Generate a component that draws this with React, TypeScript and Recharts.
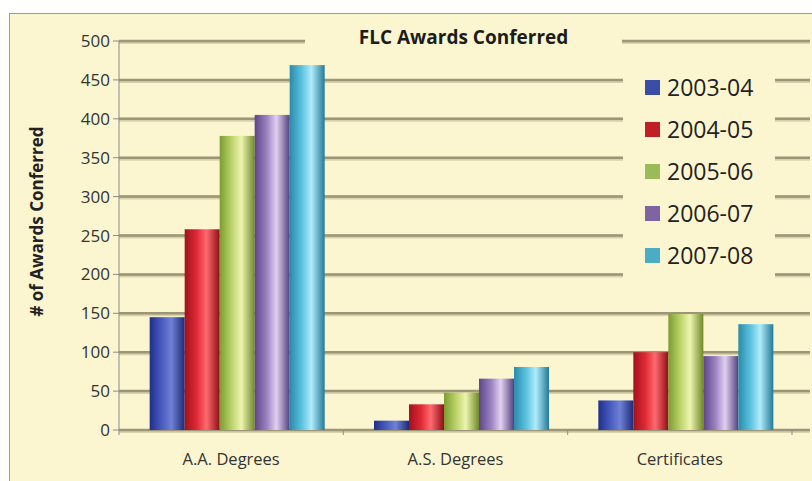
import { Bar, BarChart, CartesianGrid, XAxis, YAxis } from "recharts";

const categories = ["A.A. Degrees", "A.S. Degrees", "Certificates"];
const years = ["2003-04", "2004-05", "2005-06", "2006-07", "2007-08"];
const awards2003 = [145, 12, 38];
const awards2004 = [258, 33, 100];
const awards2005 = [378, 48, 149];
const awards2006 = [405, 66, 95];
const awards2007 = [469, 81, 136];
const yTicks = [0, 50, 100, 150, 200, 250, 300, 350, 400, 450, 500];

const seriesValues = [awards2003, awards2004, awards2005, awards2006, awards2007];

const data = categories.map((name, i) => {
  const row: Record<string, string | number> = { name };
  years.forEach((y, k) => {
    row[y] = seriesValues[k][i];
  });
  return row;
});

// cylinder shading: edge, mid, highlight, edge
const palette = [
  { key: "blue", legend: "#3a4ea8", stops: ["#1f2f8a", "#4a5cc0", "#7080d4", "#1c2a78"] },
  { key: "red", legend: "#c01f27", stops: ["#a0121c", "#e02a36", "#ff6a70", "#8e0e16"] },
  { key: "green", legend: "#9bbb59", stops: ["#7c9c30", "#bcd46c", "#eef4b0", "#6e8a28"] },
  { key: "purple", legend: "#8064a2", stops: ["#5c4688", "#9c82c0", "#e2d0f2", "#54407c"] },
  { key: "cyan", legend: "#4bacc6", stops: ["#2a8aaa", "#5cc2e0", "#b0ecfa", "#237a98"] },
];

const W = 812;
const H = 481;
const PLOT_LEFT = 119;
const PLOT_RIGHT = 792;
const PLOT_TOP = 41;
const PLOT_BOTTOM = 430;
const X_AXIS_H = 30;
const Y_AXIS_W = 60;
const BAND = (PLOT_RIGHT - PLOT_LEFT) / categories.length;
const FONT = "'Open Sans', sans-serif";

function CategoryTick(props: any) {
  const { x, payload } = props;
  return (
    <g>
      <line x1={x + BAND / 2} x2={x + BAND / 2} y1={PLOT_BOTTOM} y2={PLOT_BOTTOM + 5} stroke="#7f8fb0" />
      {payload.index === 0 && (
        <line x1={x - BAND / 2} x2={x - BAND / 2} y1={PLOT_BOTTOM} y2={PLOT_BOTTOM + 5} stroke="#7f8fb0" />
      )}
      <text x={x} y={PLOT_BOTTOM + 35} textAnchor="middle" fontSize={16.5} fill="#333" fontFamily={FONT}>
        {payload.value}
      </text>
    </g>
  );
}

function GridLine(props: any) {
  const { y1, x1 } = props;
  return (
    <g key={`g-${y1}`}>
      <line x1={x1} x2={W - 2} y1={y1 + 1} y2={y1 + 1} stroke="#d8d2a8" strokeWidth={4} />
      <line x1={x1} x2={W - 2} y1={y1} y2={y1} stroke="#9c9577" strokeWidth={2.5} />
    </g>
  );
}

function CylinderBar(props: any) {
  const { x, y, width, height, fill } = props;
  if (!height || height <= 0) return null;
  return <rect x={x + 6} y={y} width={width} height={height} fill={fill} />;
}

function LegendBox() {
  return (
    <div
      style={{
        position: "absolute",
        left: 623,
        top: 60,
        width: 152,
        background: "#fbf6cf",
        padding: "6px 0 8px 0",
        fontFamily: FONT,
      }}
    >
      {years.map((y, i) => (
        <div key={y} style={{ display: "flex", alignItems: "center", height: 42, paddingLeft: 22 }}>
          <span style={{ width: 15, height: 15, background: palette[i].legend, marginRight: 7 }} />
          <span style={{ fontSize: 23, color: "#222" }}>{y}</span>
        </div>
      ))}
    </div>
  );
}

export default function App() {
  return (
    <div style={{ position: "absolute", left: 0, top: 0, width: W, height: H, background: "#fff", overflow: "hidden" }}>
      <div
        style={{
          position: "absolute",
          left: 9,
          top: 13,
          width: W,
          height: H,
          background: "#fbf6cf",
          border: "1px solid #9a9a9a",
        }}
      />
      <div style={{ position: "absolute", left: 0, top: 0 }}>
        <BarChart
          width={W}
          height={H}
          data={data}
          margin={{
            top: PLOT_TOP,
            right: W - PLOT_RIGHT,
            bottom: H - PLOT_BOTTOM - X_AXIS_H,
            left: PLOT_LEFT - Y_AXIS_W,
          }}
          barCategoryGap="11%"
          barGap={0}
        >
          <defs>
            {palette.map((p) => (
              <linearGradient key={p.key} id={`cyl-${p.key}`} x1="0" y1="0" x2="1" y2="0">
                <stop offset="0%" stopColor={p.stops[0]} />
                <stop offset="35%" stopColor={p.stops[1]} />
                <stop offset="62%" stopColor={p.stops[2]} />
                <stop offset="100%" stopColor={p.stops[3]} />
              </linearGradient>
            ))}
          </defs>
          <CartesianGrid vertical={false} horizontal={GridLine as any} />
          <XAxis
            dataKey="name"
            height={X_AXIS_H}
            axisLine={false}
            tickLine={false}
            tick={<CategoryTick />}
            interval={0}
          />
          <YAxis
            domain={[0, 500]}
            ticks={yTicks}
            width={Y_AXIS_W}
            axisLine={{ stroke: "#8a8a8a" }}
            tickLine={{ stroke: "#8a8a8a" }}
            tickSize={6}
            tickMargin={3}
            tick={{ fill: "#333", fontSize: 17, fontFamily: FONT }}
            interval={0}
            label={{
              value: "# of Awards Conferred",
              angle: -90,
              position: "insideLeft",
              dx: -27,
              dy: -14,
              style: { textAnchor: "middle", fontWeight: "bold", fontSize: 17, fill: "#222", fontFamily: FONT },
            }}
          />
          {years.map((y, i) => (
            <Bar
              key={y}
              dataKey={y}
              fill={`url(#cyl-${palette[i].key})`}
              shape={<CylinderBar />}
              isAnimationActive={false}
            />
          ))}
        </BarChart>
      </div>
      <LegendBox />
      <div
        style={{
          position: "absolute",
          left: 305,
          top: 22,
          width: 317,
          textAlign: "center",
          background: "#fbf6cf",
          fontFamily: FONT,
          fontWeight: "bold",
          fontSize: 19,
          lineHeight: "30px",
          color: "#1c1c1c",
        }}
      >
        FLC Awards Conferred
      </div>
    </div>
  );
}
